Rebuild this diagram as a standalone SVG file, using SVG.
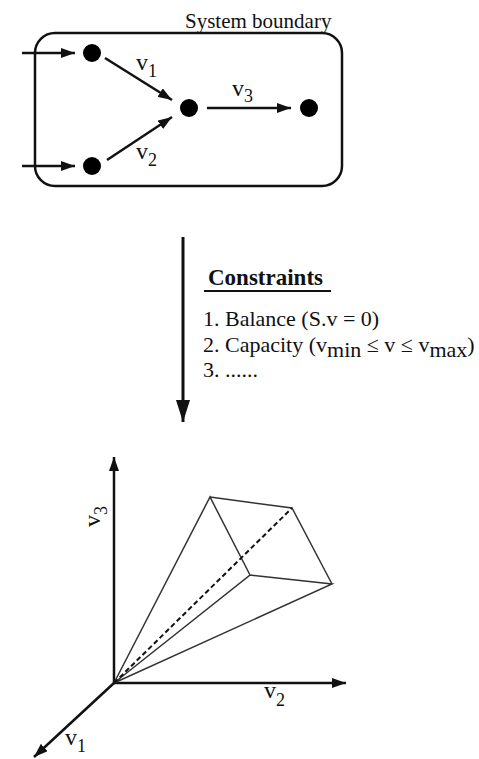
<svg xmlns="http://www.w3.org/2000/svg" width="479" height="759" viewBox="0 0 479 759">
<style>
text{font-family:"Liberation Serif","Times New Roman",serif;fill:#111}
.lbl{font-size:24px}
.sub{font-size:18px}
.ct{font-size:22px}
.ax{stroke:#111;stroke-width:2.5;fill:none}
.edge{stroke:#111;stroke-width:2.5;fill:none;marker-end:url(#ah)}
.poly{stroke:#333;stroke-width:1.5;fill:none}
.node{fill:#000}
</style>
<defs>
<marker id="ah" markerUnits="userSpaceOnUse" markerWidth="14" markerHeight="10" refX="14" refY="5" orient="auto">
<path d="M0,0 L14,5 L0,10 z" fill="#111"/>
</marker>
<marker id="bigah" markerUnits="userSpaceOnUse" markerWidth="22" markerHeight="14" refX="22" refY="7" orient="auto" viewBox="0 0 22 14">
<path d="M0,0 L22,7 L0,14 z" fill="#111"/>
</marker>
</defs>
<g id="boundary">
<rect x="35" y="33" width="307" height="153" rx="20" ry="20" fill="none" stroke="#111" stroke-width="2.5"/>
<text x="185" y="28" style="font-size:21px">System boundary</text>
</g>
<g id="nodeA"><circle class="node" cx="92" cy="53" r="9"/></g>
<g id="nodeB"><circle class="node" cx="92" cy="166" r="9"/></g>
<g id="nodeC"><circle class="node" cx="189" cy="108" r="9"/></g>
<g id="nodeD"><circle class="node" cx="309" cy="108" r="9"/></g>
<g id="connectors">
<line class="edge" x1="22" y1="53" x2="75" y2="53"/>
<line class="edge" x1="22" y1="166" x2="75" y2="166"/>
<line class="edge" x1="105" y1="58" x2="172" y2="100"/>
<line class="edge" x1="107" y1="160" x2="172" y2="117"/>
<line class="edge" x1="207" y1="108" x2="291" y2="108"/>
<line stroke="#111" stroke-width="3" x1="183" y1="237" x2="183" y2="422" marker-end="url(#bigah)"/>
</g>
<g id="labels">
<text class="lbl" x="136" y="70">v<tspan class="sub" dy="7">1</tspan></text>
<text class="lbl" x="136" y="159">v<tspan class="sub" dy="7">2</tspan></text>
<text class="lbl" x="232" y="96">v<tspan class="sub" dy="6">3</tspan></text>
</g>
<g id="constraints">
<text x="208" y="285" style="font-size:23px;font-weight:bold">Constraints</text>
<line x1="204" y1="291" x2="331" y2="291" stroke="#111" stroke-width="2"/>
<text class="ct" x="203" y="326">1. Balance (S.v = 0)</text>
<text class="ct" x="203" y="352">2. Capacity (v<tspan dy="5">min</tspan><tspan dy="-5"> ≤ v ≤ v</tspan><tspan dy="5">max</tspan><tspan dy="-5">)</tspan></text>
<text class="ct" x="203" y="377">3. ......</text>
</g>
<g id="plot">
<line class="edge" x1="114" y1="683" x2="114" y2="457"/>
<line class="edge" x1="114" y1="683" x2="346" y2="683"/>
<line class="edge" x1="114" y1="683" x2="34" y2="757"/>
<polyline class="poly" points="114,683 210,497 250,575 114,683 332,584 250,575"/>
<polyline class="poly" points="210,497 292,508 332,584"/>
<line x1="114" y1="683" x2="292" y2="508" stroke="#111" stroke-width="2" stroke-dasharray="5,3"/>
<text class="lbl" transform="translate(100,527) rotate(-90)">v<tspan class="sub" dy="7">3</tspan></text>
<text class="lbl" x="264" y="698">v<tspan class="sub" dy="8">2</tspan></text>
<text class="lbl" x="65" y="745">v<tspan class="sub" dy="7">1</tspan></text>
</g>
</svg>
